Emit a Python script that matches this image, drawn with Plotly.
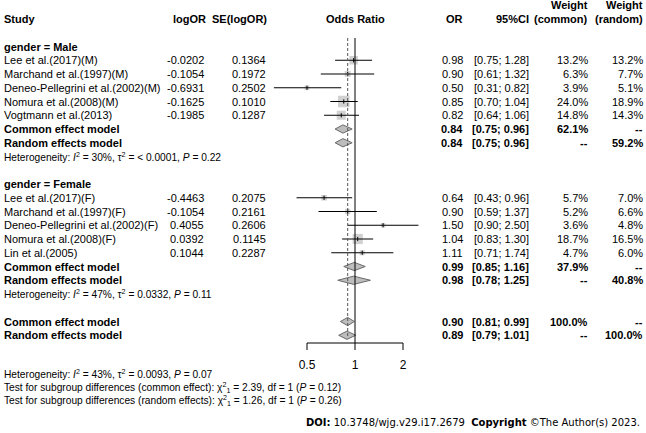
import math
import plotly.graph_objects as go

W, H = 646, 433

# ---------------- data ----------------
male_studies = ["Lee et al.(2017)(M)", "Marchand et al.(1997)(M)", "Deneo-Pellegrini et al.(2002)(M)",
                "Nomura et al.(2008)(M)", "Vogtmann et al.(2013)"]
male_logor = [-0.0202, -0.1054, -0.6931, -0.1625, -0.1985]
male_se = [0.1364, 0.1972, 0.2502, 0.1010, 0.1287]
male_or = [0.98, 0.90, 0.50, 0.85, 0.82]
male_lo = [0.75, 0.61, 0.31, 0.70, 0.64]
male_hi = [1.28, 1.32, 0.82, 1.04, 1.06]
male_wc = [13.2, 6.3, 3.9, 24.0, 14.8]
male_wr = [13.2, 7.7, 5.1, 18.9, 14.3]

female_studies = ["Lee et al.(2017)(F)", "Marchand et al.(1997)(F)", "Deneo-Pellegrini et al.(2002)(F)",
                  "Nomura et al.(2008)(F)", "Lin et al.(2005)"]
female_logor = [-0.4463, -0.1054, 0.4055, 0.0392, 0.1044]
female_se = [0.2075, 0.2161, 0.2606, 0.1145, 0.2287]
female_or = [0.64, 0.90, 1.50, 1.04, 1.11]
female_lo = [0.43, 0.59, 0.90, 0.83, 0.71]
female_hi = [0.96, 1.37, 2.50, 1.30, 1.74]
female_wc = [5.7, 5.2, 3.6, 18.7, 4.7]
female_wr = [7.0, 6.6, 4.8, 16.5, 6.0]

pooled_labels = ["Common effect model", "Random effects model"] * 3
pooled_est = [0.84, 0.84, 0.99, 0.98, 0.90, 0.89]
pooled_lo = [0.75, 0.75, 0.85, 0.78, 0.81, 0.79]
pooled_hi = [0.96, 0.96, 1.16, 1.25, 0.99, 1.01]
pooled_wc = ["62.1%", "--", "37.9%", "--", "100.0%", "--"]
pooled_wr = ["--", "59.2%", "--", "40.8%", "--", "100.0%"]

het_text = [
    "Heterogeneity: <i>I</i><sup>2</sup> = 30%, τ<sup>2</sup> = < 0.0001, <i>P</i> = 0.22",
    "Heterogeneity: <i>I</i><sup>2</sup> = 47%, τ<sup>2</sup> = 0.0332, <i>P</i> = 0.11",
]
overall_text = [
    "Heterogeneity: <i>I</i><sup>2</sup> = 43%, τ<sup>2</sup> = 0.0093, <i>P</i> = 0.07",
    "Test for subgroup differences (common effect): χ<sup>2</sup><sub>1</sub> = 2.39, df = 1 (<i>P</i> = 0.12)",
    "Test for subgroup differences (random effects): χ<sup>2</sup><sub>1</sub> = 1.26, df = 1 (<i>P</i> = 0.26)",
]
tick_vals = [0.5, 1, 2]
tick_text = ["0.5", "1", "2"]
ref_common = 0.90

# ---------------- layout helpers ----------------
FONT = "Liberation Sans, Arial, sans-serif"
FS = 11.0
FS_HET = 10.2
ROW0, PITCH = 19.0, 13.75


def row_of(py):
    return (py - ROW0) / PITCH


male_rows = [3, 4, 5, 6, 7]
female_rows = [13, 14, 15, 16, 17]
pooled_rows = [8, 9, 18, 19, 22, 23]
het_rows = [10, 20]

annotations = []


def txt(xpx, row, text, anchor="left", bold=False, size=FS, family=FONT):
    if bold:
        text = "<b>" + text + "</b>"
    annotations.append(dict(x=xpx / W, y=row, xref="paper", yref="y", text=text, showarrow=False,
                            xanchor=anchor, yanchor="middle", borderpad=0,
                            font=dict(family=family, size=size, color="black")))


X_STUDY, X_LOGOR, X_SE, X_OR, X_CI, X_WC, X_WR = 3, 204.5, 267, 464, 529.5, 588.5, 643.5

# header
txt(X_STUDY, 0, "Study", bold=True)
txt(X_LOGOR + 2, 0, "logOR", "right", True)
txt(X_SE + 1, 0, "SE(logOR)", "right", True)
txt(355, 0, "Odds Ratio", "center", True)
txt(X_OR, 0, "OR", "right", True)
txt(X_CI, 0, "95%CI", "right", True)
txt(X_WC, -1.05, "Weight", "right", True)
txt(X_WC, 0, "(common)", "right", True)
txt(X_WR, -1.05, "Weight", "right", True)
txt(X_WR, 0, "(random)", "right", True)

txt(X_STUDY, 2, "gender = Male", bold=True)
txt(X_STUDY, 12, "gender = Female", bold=True)

fig = go.Figure()


def study_block(rows, names, logor, se, orv, lo, hi, wc, wr):
    for r, n, a, s, o, l, h, c, d in zip(rows, names, logor, se, orv, lo, hi, wc, wr):
        txt(X_STUDY, r, n)
        txt(X_LOGOR, r, f"{a:.4f}", "right")
        txt(X_SE, r, f"{s:.4f}", "right")
        txt(X_OR, r, f"{o:.2f}", "right")
        txt(X_CI, r, f"[{l:.2f}; {h:.2f}]", "right")
        txt(X_WC, r, f"{c:.1f}%", "right")
        txt(X_WR, r, f"{d:.1f}%", "right")
    # squares
    fig.add_trace(go.Scatter(x=orv, y=rows, mode="markers", hoverinfo="skip",
                             marker=dict(symbol="square", color="#BDBDBD",
                                         size=[2.35 * c ** 0.5 for c in wc], line=dict(width=0))))
    # CI lines
    xs, ys = [], []
    for r, l, h in zip(rows, lo, hi):
        xs += [l, h, None]
        ys += [r, r, None]
    fig.add_trace(go.Scatter(x=xs, y=ys, mode="lines", hoverinfo="skip",
                             line=dict(color="black", width=1)))
    # center marks
    fig.add_trace(go.Scatter(x=orv, y=rows, mode="markers", hoverinfo="skip",
                             marker=dict(symbol="line-ns-open", size=3, color="black",
                                         line=dict(width=1, color="black"))))


study_block(male_rows, male_studies, male_logor, male_se, male_or, male_lo, male_hi, male_wc, male_wr)
study_block(female_rows, female_studies, female_logor, female_se, female_or, female_lo, female_hi,
            female_wc, female_wr)

# pooled
DH = 0.3
for r, lab, e, l, h, c, d in zip(pooled_rows, pooled_labels, pooled_est, pooled_lo, pooled_hi,
                                  pooled_wc, pooled_wr):
    txt(X_STUDY, r, lab, bold=True)
    txt(X_OR, r, f"{e:.2f}", "right", True)
    txt(X_CI, r, f"[{l:.2f}; {h:.2f}]", "right", True)
    txt(X_WC, r, c, "right", True)
    txt(X_WR, r, d, "right", True)
    fig.add_trace(go.Scatter(x=[l, e, h, e, l], y=[r, r - DH, r, r + DH, r], mode="lines",
                             fill="toself", fillcolor="#BDBDBD", hoverinfo="skip",
                             line=dict(color="#6A6A6A", width=1)))

for r, t in zip(het_rows, het_text):
    txt(X_STUDY, r, t, size=FS_HET)

for py, t in zip([374, 388, 401], overall_text):
    txt(X_STUDY, row_of(py), t, size=FS_HET)

txt(641, row_of(422), "<b>DOI:</b> 10.3748/wjg.v29.i17.2679  <b>Copyright</b> ©The Author(s) 2023.",
    "right", size=10, family="DejaVu Sans, Verdana, sans-serif")

# reference lines
top_row = row_of(38)
axis_row = row_of(343)
fig.add_trace(go.Scatter(x=[1, 1], y=[top_row, axis_row], mode="lines", hoverinfo="skip",
                         line=dict(color="black", width=1)))
fig.add_trace(go.Scatter(x=[ref_common, ref_common], y=[top_row, row_of(338)], mode="lines",
                         hoverinfo="skip", line=dict(color="#555555", width=1, dash="3px,2px")))

# x axis (drawn)
tick_end = row_of(350)
ax_x = [tick_vals[0], tick_vals[-1], None]
ax_y = [axis_row, axis_row, None]
for v in tick_vals:
    ax_x += [v, v, None]
    ax_y += [axis_row, tick_end, None]
fig.add_trace(go.Scatter(x=ax_x, y=ax_y, mode="lines", hoverinfo="skip",
                         line=dict(color="black", width=1)))
fig.add_trace(go.Scatter(x=tick_vals, y=[row_of(366)] * 3, mode="text", text=tick_text,
                         hoverinfo="skip", textfont=dict(family=FONT, size=12, color="black")))

# axes mapping: 0.5 -> 307px, 2 -> 403px
px_per_dec = 96 / math.log10(4)
x_left, x_right = 260, 440
rng = [math.log10(0.5) - (307 - x_left) / px_per_dec, math.log10(2) + (x_right - 403) / px_per_dec]

fig.update_layout(
    width=W, height=H, margin=dict(l=0, r=0, t=0, b=0),
    paper_bgcolor="white", plot_bgcolor="white", showlegend=False,
    xaxis=dict(type="log", range=rng, domain=[x_left / W, x_right / W], visible=False),
    yaxis=dict(range=[row_of(H), row_of(0)], domain=[0, 1], visible=False),
    annotations=annotations,
)

fig.write_html("out.html", config={"displayModeBar": False},
               post_script="document.body.style.margin='0';")
